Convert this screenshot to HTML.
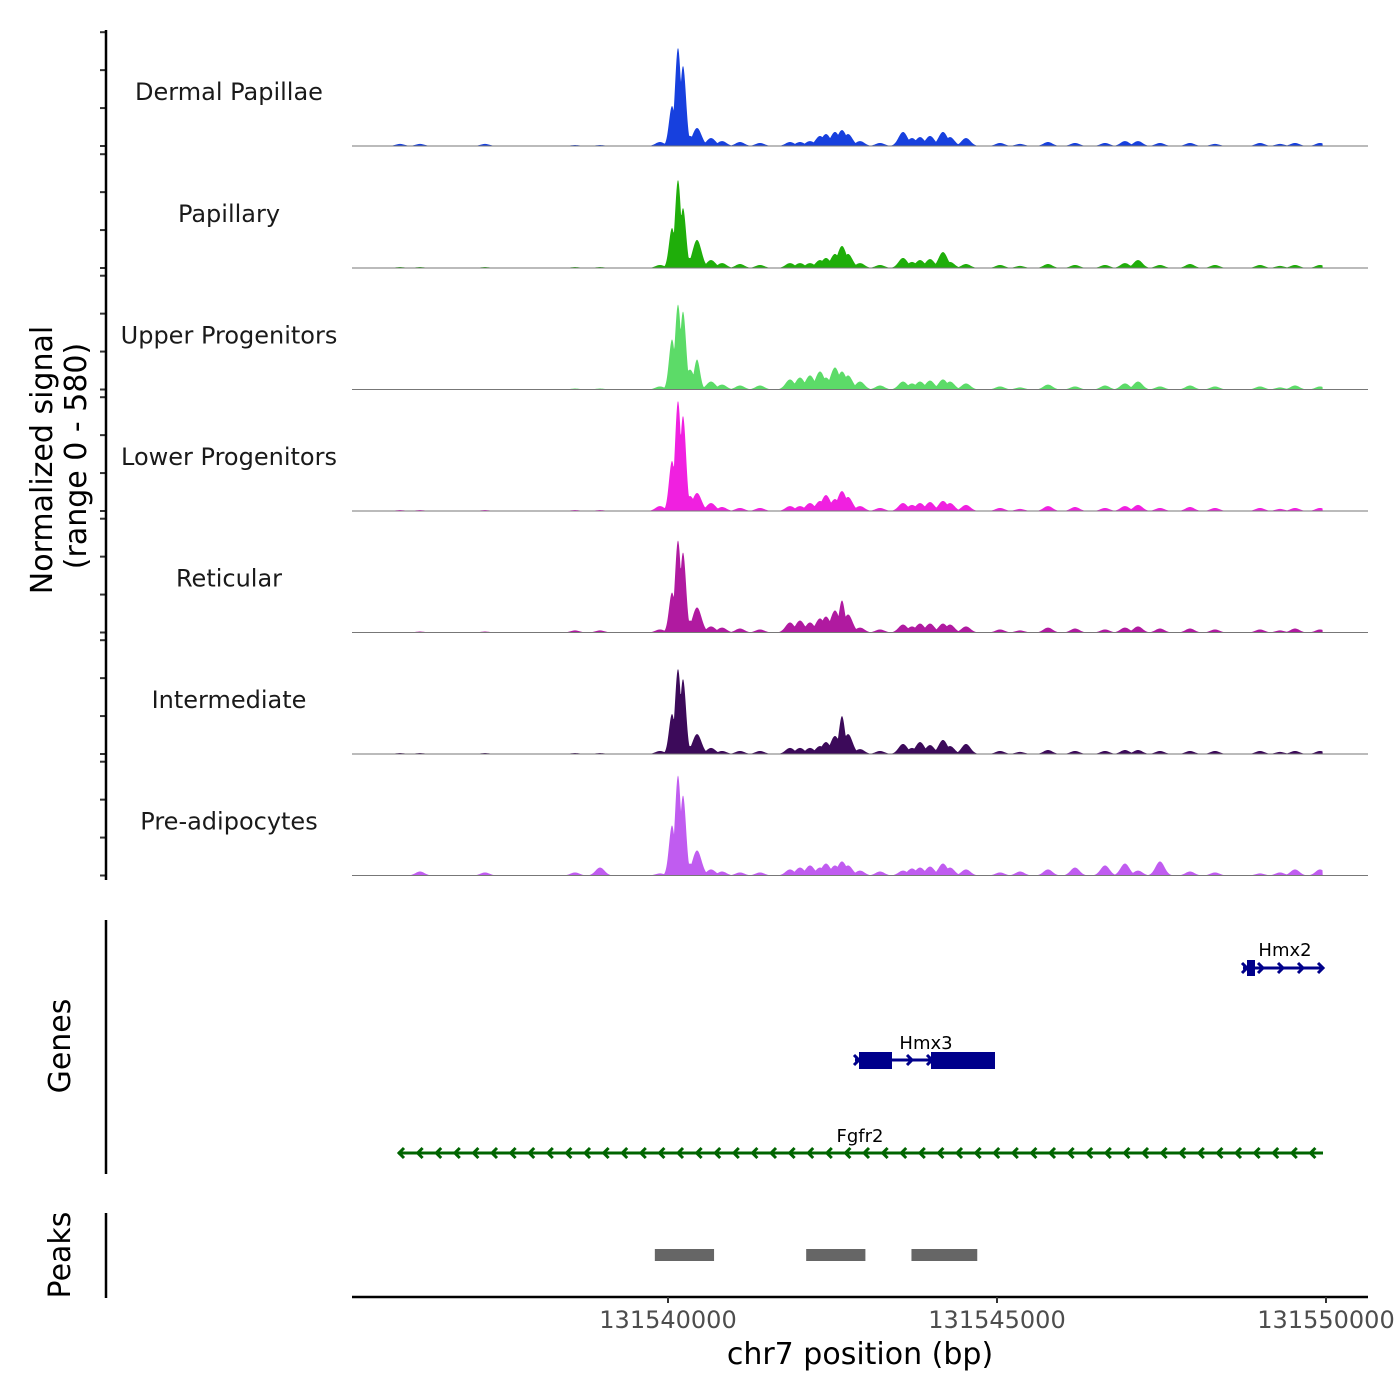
<!DOCTYPE html>
<html><head><meta charset="utf-8"><style>
html,body{margin:0;padding:0;background:#fff;}
svg{display:block;font-family:"DejaVu Sans","Liberation Sans",sans-serif;}
</style></head><body>
<svg id="chart" width="1400" height="1400" viewBox="0 0 1400 1400" xmlns="http://www.w3.org/2000/svg">
<g id="tracks"></g>
<g id="yaxis"></g>
<text transform="translate(52,460) rotate(-90)" text-anchor="middle" font-size="30" fill="#000">Normalized signal</text>
<text transform="translate(86,456) rotate(-90)" text-anchor="middle" font-size="30" fill="#000">(range 0 - 580)</text>
<g id="genes"></g>
<line x1="106" y1="920" x2="106" y2="1174" stroke="#000" stroke-width="2.5"/>
<text transform="translate(70,1046) rotate(-90)" text-anchor="middle" font-size="30">Genes</text>
<line x1="106" y1="1213" x2="106" y2="1298" stroke="#000" stroke-width="2.5"/>
<text transform="translate(70,1255) rotate(-90)" text-anchor="middle" font-size="30">Peaks</text>
<g id="peaks"></g>
<line x1="352" y1="1297" x2="1368" y2="1297" stroke="#000" stroke-width="2.5"/>
<g id="xaxis"></g>
<text x="860" y="1364" text-anchor="middle" font-size="30">chr7 position (bp)</text>
</svg>
<script>
const NS="http://www.w3.org/2000/svg";
const trackNames=["Dermal Papillae","Papillary","Upper Progenitors","Lower Progenitors","Reticular","Intermediate","Pre-adipocytes"];
const trackColors=["#1740DE","#1FAE0A","#5CDB68","#F020E0","#B01AA0","#3C0A5A","#C05CF0"];
const peakPositions=[131535927,131536231,131537219,131538587,131538967,131539878,131540061,131540152,131540228,131540334,131540441,131540654,131540821,131541094,131541398,131541854,131542006,131542158,131542310,131542401,131542538,131542644,131542736,131542918,131543222,131543572,131543708,131543830,131543982,131544179,131544286,131544529,131545046,131545350,131545775,131546186,131546642,131546945,131547143,131547477,131547933,131548313,131548997,131549301,131549529,131549909];
const seriesDermal=[11,11,11,5,5,21,211,517,422,53,95,42,26,21,16,21,21,26,53,63,74,84,63,26,16,74,42,47,53,74,47,42,16,11,21,16,16,26,26,16,16,11,16,11,16,16];
const seriesPapillary=[5,5,5,5,5,16,211,464,316,53,148,42,26,21,16,26,26,26,42,53,74,116,74,26,16,53,32,42,47,84,32,21,16,11,21,16,16,26,42,16,21,16,16,11,16,16];
const seriesUpper=[0,0,0,5,5,16,264,448,411,105,158,42,26,21,21,53,63,74,95,63,116,95,74,42,21,42,32,42,47,53,42,32,16,11,26,16,21,32,42,16,21,16,16,11,21,16];
const seriesLower=[5,5,5,5,5,26,264,580,501,79,95,42,21,16,16,26,26,42,53,84,63,105,74,26,16,42,32,42,47,53,42,32,16,11,26,21,16,26,32,16,21,16,16,11,16,16];
const seriesReticular=[0,5,5,11,11,16,211,485,422,63,132,32,26,21,16,53,63,53,74,84,116,169,95,26,16,42,32,47,47,47,42,32,16,11,26,21,16,26,32,21,21,16,16,11,21,16];
const seriesIntermediate=[5,5,5,5,5,16,211,448,395,42,105,32,16,16,16,32,32,32,42,63,95,200,105,26,16,53,32,63,47,74,42,53,16,11,21,16,16,21,21,16,16,16,16,11,16,16];
const seriesPreadipo=[0,21,16,16,42,11,264,527,422,63,132,32,21,16,16,32,42,53,42,63,53,74,53,26,21,26,37,42,47,63,42,32,16,21,32,42,53,63,26,74,21,16,11,16,32,32];
const allSeries=[seriesDermal,seriesPapillary,seriesUpper,seriesLower,seriesReticular,seriesIntermediate,seriesPreadipo];
const xTicks=[131540000,131545000,131550000];
const peakRegions=[[131539800,131540700],[131542100,131543000],[131543700,131544700]];
const yTickValues=[0,200,400,600];

const X0=131540000, PX0=668, PXPB=329/5000;
const xs=bp=>PX0+(bp-X0)*PXPB;
const baselines=[146,268,389.5,511,632.5,754,875.5];
const YMAX=580, YH=110;
const ys=(v,b)=>b-v/YMAX*YH;

function mk(tag,attrs,parent){const e=document.createElementNS(NS,tag);for(const k in attrs)e.setAttribute(k,attrs[k]);parent.appendChild(e);return e;}
const tracks=document.getElementById('tracks'), yaxis=document.getElementById('yaxis');
const dataStart=352, dataEnd=xs(131549950);
allSeries.forEach((ser,ti)=>{
  const b=baselines[ti];
  const g=mk('g',{},tracks);
  
  
  let d='M'+dataStart+','+b;
  for(let px=dataStart;px<=dataEnd;px+=0.5){
    let m=0;
    peakPositions.forEach((p,i)=>{const dx=px-xs(p);const w=(ser[i]>150?3:4.5);const val=ser[i]*Math.exp(-dx*dx/(2*w*w));if(val>m)m=val;});
    d+=' L'+px+','+ys(m,b).toFixed(2);
  }
  d+=' L'+dataEnd+','+b+' Z';
  const area=mk('path',{d:d,fill:trackColors[ti]},g);
  
  
  const base=mk('line',{x1:352,y1:b,x2:1368,y2:b,stroke:'#777','stroke-width':1},g);
  
  
  const lab=mk('text',{x:229,y:b-46,'text-anchor':'middle','font-size':24,fill:'#1a1a1a'},g);
  
  
  lab.textContent=trackNames[ti];
  yTickValues.forEach(v=>{
    const t=mk('line',{x1:100,x2:106,y1:ys(v,b),y2:ys(v,b),stroke:'#333','stroke-width':2},yaxis);
    
    
  });
});
const yl=mk('line',{x1:106,y1:30,x2:106,y2:880,stroke:'#000','stroke-width':2.5},yaxis);



const xaxis=document.getElementById('xaxis');
xTicks.forEach(t=>{
  const tk=mk('line',{x1:xs(t),x2:xs(t),y1:1297,y2:1303,stroke:'#333','stroke-width':2},xaxis);
  
  
  const tl=mk('text',{x:xs(t),y:1328,'text-anchor':'middle','font-size':24,fill:'#4d4d4d'},xaxis);
  
  
  tl.textContent=t;
});

const peaksG=document.getElementById('peaks');
peakRegions.forEach(r=>{
  const rc=mk('rect',{x:xs(r[0]),y:1249,width:xs(r[1])-xs(r[0]),height:12,fill:'#666'},peaksG);
  
  
});

const genes=document.getElementById('genes');
function chev(x,y,dir,col){const s=5*dir;mk('path',{d:`M${x-s},${y-5} L${x},${y} L${x-s},${y+5}`,stroke:col,'stroke-width':3,fill:'none'},genes);}
const blue='#00008B';
mk('line',{x1:1243,y1:968,x2:1323,y2:968,stroke:blue,'stroke-width':3},genes);
mk('rect',{x:1247,y:960,width:8,height:16,fill:blue},genes);
[1247,1263,1283,1303,1323].forEach(x=>chev(x,968,1,blue));
const h2=mk('text',{x:1285,y:956,'text-anchor':'middle','font-size':18},genes);


h2.textContent='Hmx2';
mk('line',{x1:855,y1:1060,x2:994,y2:1060,stroke:blue,'stroke-width':3},genes);
mk('rect',{x:859,y:1052,width:33,height:17,fill:blue},genes);
mk('rect',{x:931,y:1052,width:64,height:17,fill:blue},genes);
[859,912,932].forEach(x=>chev(x,1060,1,blue));
const h3=mk('text',{x:926,y:1049,'text-anchor':'middle','font-size':18},genes);


h3.textContent='Hmx3';
const green='#006400';
mk('line',{x1:398,y1:1153,x2:1323,y2:1153,stroke:green,'stroke-width':3},genes);
for(let x=399;x<1320;x+=18.6)chev(x,1153,-1,green);
const fg=mk('text',{x:860,y:1142,'text-anchor':'middle','font-size':18},genes);


fg.textContent='Fgfr2';
</script>
</body></html>
